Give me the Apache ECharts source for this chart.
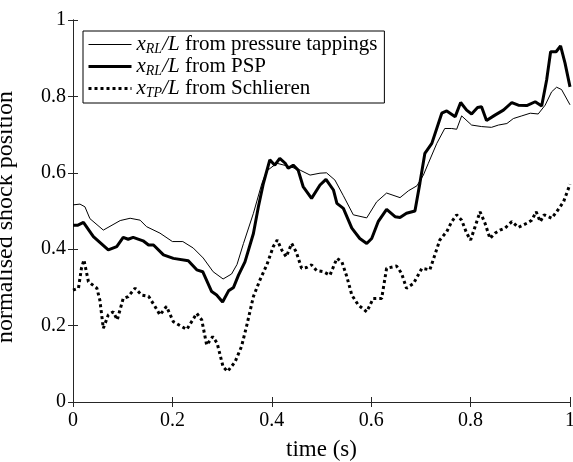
<!DOCTYPE html>
<html><head><meta charset="utf-8">
<script src="https://cdn.jsdelivr.net/npm/echarts@6/dist/echarts.min.js"></script>
<style>html,body{margin:0;padding:0;background:#fff}#c{width:573px;height:462px}</style>
</head><body><div id="c"></div>
<script>
const xTicks = [0, 0.2, 0.4, 0.6, 0.8, 1];
const yTicks = [0, 0.2, 0.4, 0.6, 0.8, 1];

const tPT = [0,0.014,0.024,0.034,0.061,0.095,0.115,0.135,0.148,0.175,0.2,0.221,0.242,0.262,0.282,0.302,0.319,0.33,0.343,0.363,0.38,0.39,0.41,0.437,0.457,0.477,0.497,0.51,0.527,0.544,0.564,0.591,0.611,0.631,0.658,0.675,0.692,0.705,0.715,0.732,0.748,0.762,0.772,0.782,0.802,0.822,0.842,0.856,0.873,0.886,0.903,0.92,0.936,0.95,0.963,0.973,0.983,1.0];
const vPT = [0.516,0.518,0.511,0.48,0.45,0.475,0.481,0.476,0.459,0.442,0.42,0.42,0.403,0.377,0.341,0.322,0.335,0.36,0.415,0.494,0.572,0.605,0.625,0.616,0.607,0.594,0.599,0.6,0.581,0.54,0.49,0.482,0.524,0.547,0.535,0.553,0.566,0.594,0.625,0.677,0.716,0.716,0.714,0.749,0.725,0.721,0.719,0.725,0.729,0.742,0.749,0.756,0.754,0.777,0.812,0.824,0.818,0.778];

const tPSP = [0,0.01,0.021,0.041,0.071,0.088,0.101,0.111,0.121,0.141,0.152,0.162,0.182,0.202,0.232,0.249,0.261,0.279,0.289,0.301,0.313,0.323,0.333,0.346,0.363,0.373,0.383,0.396,0.406,0.416,0.427,0.433,0.443,0.453,0.463,0.48,0.497,0.509,0.524,0.531,0.544,0.561,0.577,0.591,0.601,0.614,0.631,0.648,0.658,0.671,0.688,0.698,0.708,0.722,0.742,0.752,0.769,0.78,0.792,0.802,0.814,0.822,0.832,0.849,0.866,0.883,0.896,0.913,0.93,0.943,0.953,0.961,0.972,0.981,0.99,1.0];
const vPSP = [0.463,0.463,0.47,0.433,0.398,0.407,0.431,0.426,0.431,0.422,0.411,0.411,0.385,0.376,0.37,0.346,0.341,0.289,0.28,0.262,0.291,0.3,0.332,0.367,0.441,0.511,0.572,0.634,0.62,0.638,0.625,0.612,0.62,0.607,0.564,0.533,0.568,0.583,0.555,0.52,0.507,0.455,0.428,0.415,0.428,0.472,0.504,0.485,0.483,0.494,0.5,0.573,0.651,0.677,0.756,0.762,0.747,0.784,0.764,0.754,0.771,0.773,0.737,0.751,0.764,0.784,0.777,0.776,0.786,0.775,0.843,0.917,0.917,0.932,0.887,0.825];

const tSch = [0,0.011,0.017,0.022,0.031,0.048,0.054,0.061,0.071,0.081,0.089,0.101,0.111,0.125,0.138,0.152,0.165,0.175,0.188,0.202,0.229,0.249,0.259,0.269,0.281,0.29,0.302,0.311,0.326,0.339,0.349,0.363,0.376,0.39,0.403,0.411,0.42,0.429,0.44,0.449,0.46,0.47,0.48,0.49,0.504,0.517,0.531,0.541,0.551,0.561,0.574,0.591,0.604,0.621,0.631,0.651,0.661,0.671,0.685,0.702,0.718,0.728,0.738,0.752,0.762,0.772,0.782,0.792,0.8,0.809,0.819,0.829,0.839,0.849,0.859,0.869,0.883,0.896,0.913,0.923,0.932,0.94,0.948,0.963,0.973,0.987,1.0];
const vSch = [0.293,0.298,0.35,0.372,0.315,0.298,0.267,0.193,0.228,0.236,0.215,0.271,0.276,0.298,0.28,0.277,0.25,0.228,0.25,0.21,0.19,0.232,0.215,0.149,0.171,0.154,0.092,0.08,0.105,0.145,0.197,0.276,0.319,0.359,0.407,0.424,0.398,0.38,0.415,0.393,0.35,0.352,0.359,0.344,0.341,0.332,0.376,0.367,0.328,0.28,0.254,0.236,0.271,0.271,0.35,0.356,0.337,0.298,0.31,0.35,0.346,0.385,0.424,0.446,0.472,0.49,0.476,0.442,0.424,0.459,0.498,0.468,0.428,0.442,0.45,0.455,0.472,0.457,0.468,0.476,0.498,0.472,0.49,0.481,0.498,0.524,0.57];

const names = ['pt', 'psp', 'sch'];
const legendText = {
  pt: '{m|x}{s|RL}{m|/L}{r| from pressure tappings}',
  psp: '{m|x}{s|RL}{m|/L}{r| from PSP}',
  sch: '{m|x}{s|TP}{m|/L}{r| from Schlieren}'
};

const zip = (a, b) => a.map((t, i) => [t, b[i]]);
const serif = 'Liberation Serif';
const axCol = '#262626';

const chart = echarts.init(document.getElementById('c'), null, {renderer: 'canvas'});
const baseAxis = {
  min: 0, max: 1, interval: 0.2,
  axisLine: {show: true, lineStyle: {color: axCol, width: 1}},
  axisTick: {show: true, inside: true, length: 5, lineStyle: {color: axCol}},
  splitLine: {show: false}
};
chart.setOption({
  animation: false,
  backgroundColor: '#fff',
  grid: {left: 73, right: 3, top: 20, bottom: 60, containLabel: false, outerBoundsMode: 'none'},
  xAxis: [
    Object.assign({}, baseAxis, {type: 'value', position: 'bottom',
      name: 'time (s)', nameLocation: 'middle', nameGap: 36,
      nameTextStyle: {fontFamily: serif, fontSize: 23, color: '#000'},
      axisLabel: {fontFamily: serif, fontSize: 20, color: '#000', margin: 9,
        formatter: v => xTicks.includes(+v.toFixed(2)) ? String(+v.toFixed(2)) : ''}}),
    Object.assign({}, baseAxis, {type: 'value', position: 'top', axisLabel: {show: false}})
  ],
  yAxis: [
    Object.assign({}, baseAxis, {type: 'value', position: 'left',
      name: 'normalised shock position', nameLocation: 'middle', nameGap: 55,
      nameTextStyle: {fontFamily: serif, fontSize: 24, color: '#000', padding: [0, 12, 0, 0]},
      axisLabel: {fontFamily: serif, fontSize: 20, color: '#000', margin: 7,
        formatter: v => yTicks.includes(+v.toFixed(2)) ? String(+v.toFixed(2)) : ''}}),
    Object.assign({}, baseAxis, {type: 'value', position: 'right', axisLabel: {show: false}})
  ],
  legend: {
    data: [
      {name: 'pt', lineStyle: {width: 1}},
      {name: 'psp', lineStyle: {width: 3}},
      {name: 'sch', lineStyle: {width: 3, type: [3, 3]}}
    ],
    orient: 'vertical',
    left: 83, top: 31,
    padding: [3, 7, 3, 4],
    itemGap: 0,
    itemWidth: 43, itemHeight: 14,
    borderColor: '#000', borderWidth: 1,
    backgroundColor: '#fff',
    itemStyle: {opacity: 0},
    formatter: n => legendText[n],
    textStyle: {
      color: '#000',
      rich: {
        m: {fontFamily: serif, fontStyle: 'italic', fontSize: 21, lineHeight: 23, color: '#000'},
        s: {fontFamily: serif, fontStyle: 'italic', fontSize: 14, lineHeight: 12, verticalAlign: 'bottom', color: '#000'},
        r: {fontFamily: serif, fontSize: 21, lineHeight: 23, color: '#000'}
      }
    }
  },
  series: [
    {name: 'pt', type: 'line', data: zip(tPT, vPT), showSymbol: false, symbol: 'none',
      lineStyle: {color: '#000', width: 1}, itemStyle: {color: '#000'}},
    {name: 'psp', type: 'line', data: zip(tPSP, vPSP), showSymbol: false, symbol: 'none',
      lineStyle: {color: '#000', width: 3}, itemStyle: {color: '#000'}},
    {name: 'sch', type: 'line', data: zip(tSch, vSch), showSymbol: false, symbol: 'none',
      lineStyle: {color: '#000', width: 3, type: [3, 3]}, itemStyle: {color: '#000'}}
  ]
});
</script></body></html>
